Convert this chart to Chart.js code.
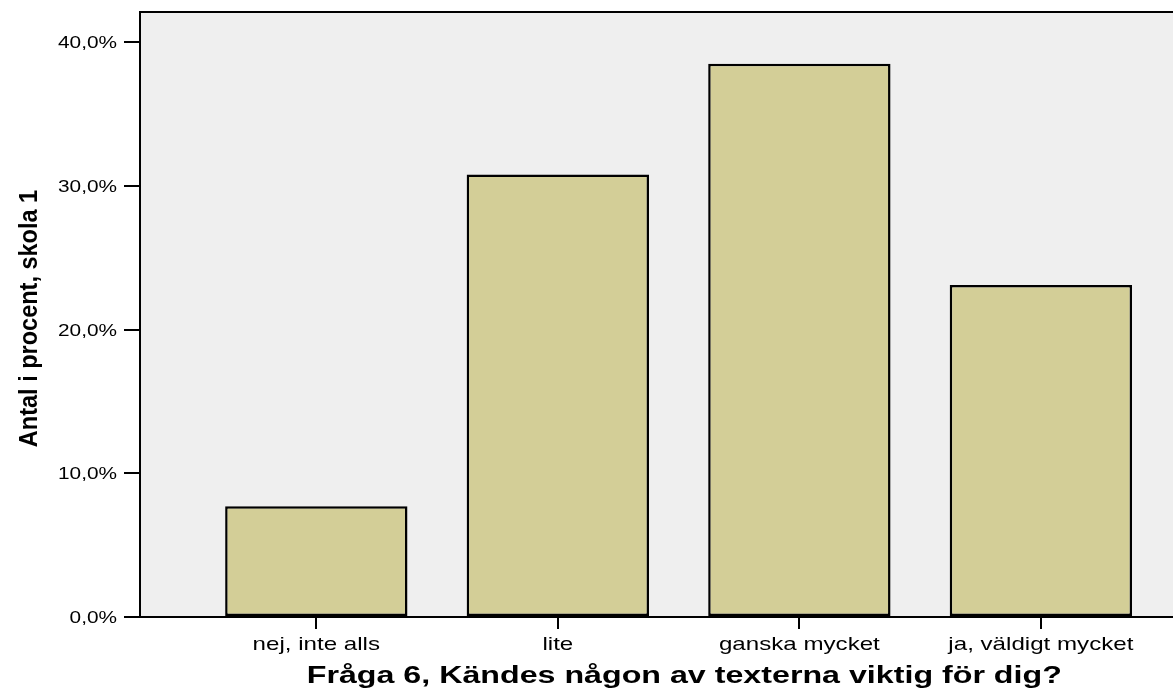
<!DOCTYPE html>
<html>
<head>
<meta charset="utf-8">
<script src="https://cdn.jsdelivr.net/npm/chart.js@4/dist/chart.umd.min.js"></script>
<style>
  html, body { margin: 0; padding: 0; background: #fff; }
  #wrap { width: 1173px; height: 693px; }
</style>
</head>
<body>
<div id="wrap"><canvas id="chart"></canvas></div>
<script>
const categories = ['nej, inte alls', 'lite', 'ganska mycket', 'ja, väldigt mycket'];
const percentages = [7.7, 30.8, 38.5, 23.1];
const yTicks = [0, 10, 20, 30, 40];
const yTitle = 'Antal i procent, skola 1';
const xTitle = 'Fråga 6, Kändes någon av texterna viktig för dig?';

const FONT = "'Liberation Sans', Arial, sans-serif";

// text in the reference is stretched sideways, so draw it scaled
function wideText(ctx, text, x, y, font, sx, align) {
    ctx.save();
    ctx.font = font;
    ctx.fillStyle = '#000';
    ctx.textAlign = align;
    ctx.textBaseline = 'alphabetic';
    ctx.translate(x, y);
    ctx.scale(sx, 1);
    ctx.fillText(text, 0, 0);
    ctx.restore();
}

const spssLook = {
    id: 'spssLook',
    beforeDraw(chart) {
        const { ctx, chartArea: a } = chart;
        ctx.save();
        ctx.fillStyle = '#efefef';
        ctx.fillRect(a.left, a.top, a.right - a.left, a.bottom - a.top);
        ctx.restore();
    },
    afterDraw(chart) {
        const { ctx, chartArea: a } = chart;
        const xs = chart.scales.x, ys = chart.scales.y;

        ctx.save();
        ctx.strokeStyle = '#000';
        ctx.lineWidth = 2;
        ctx.beginPath();
        ctx.moveTo(a.left - 1, a.top);
        ctx.lineTo(a.right, a.top);
        ctx.stroke();
        ctx.restore();

        yTicks.forEach(v => {
            const label = v.toFixed(1).replace('.', ',') + '%';
            wideText(ctx, label, 117, ys.getPixelForValue(v) + 6, '16px ' + FONT, 1.3, 'right');
        });

        categories.forEach((c, i) => {
            wideText(ctx, c, xs.getPixelForValue(i), 650, '19px ' + FONT, 1.27, 'center');
        });

        const mid = (xs.getPixelForValue(-0.5) + a.right) / 2;
        wideText(ctx, xTitle, mid, 683, 'bold 23px ' + FONT, 1.4, 'center');

        ctx.save();
        ctx.translate(37, (a.top + a.bottom) / 2 + 4);
        ctx.rotate(-Math.PI / 2);
        ctx.scale(0.94, 1);
        ctx.font = 'bold 25px ' + FONT;
        ctx.fillStyle = '#000';
        ctx.textAlign = 'center';
        ctx.textBaseline = 'alphabetic';
        ctx.fillText(yTitle, 0, 0);
        ctx.restore();
    }
};

new Chart(document.getElementById('chart'), {
    type: 'bar',
    data: {
        datasets: [{
            data: categories.map((c, i) => ({ x: i, y: percentages[i] })),
            backgroundColor: '#d3ce97',
            borderColor: '#000',
            borderWidth: 2.5,
            borderSkipped: false,
            categoryPercentage: 1,
            barPercentage: 0.755
        }]
    },
    options: {
        responsive: true,
        maintainAspectRatio: false,
        animation: false,
        layout: { padding: { top: 12, left: 0, right: 0, bottom: 0 } },
        plugins: { legend: { display: false }, tooltip: { enabled: false } },
        scales: {
            x: {
                type: 'linear',
                offset: false,
                min: -0.73,
                max: 3.547,
                afterBuildTicks: s => { s.ticks = categories.map((c, i) => ({ value: i })); },
                afterFit: s => { s.height = 76; },
                ticks: { display: false },
                grid: { offset: false, drawOnChartArea: false, drawTicks: true, tickLength: 12, color: '#000', lineWidth: 2 },
                border: { display: true, color: '#000', width: 2 }
            },
            y: {
                min: 0,
                max: 42.1,
                afterBuildTicks: s => { s.ticks = yTicks.map(v => ({ value: v })); },
                afterFit: s => { s.width = 140; },
                ticks: { display: false },
                grid: { drawOnChartArea: false, drawTicks: true, tickLength: 16, color: '#000', lineWidth: 2 },
                border: { display: true, color: '#000', width: 2 }
            }
        }
    },
    plugins: [spssLook]
});
</script>
</body>
</html>
